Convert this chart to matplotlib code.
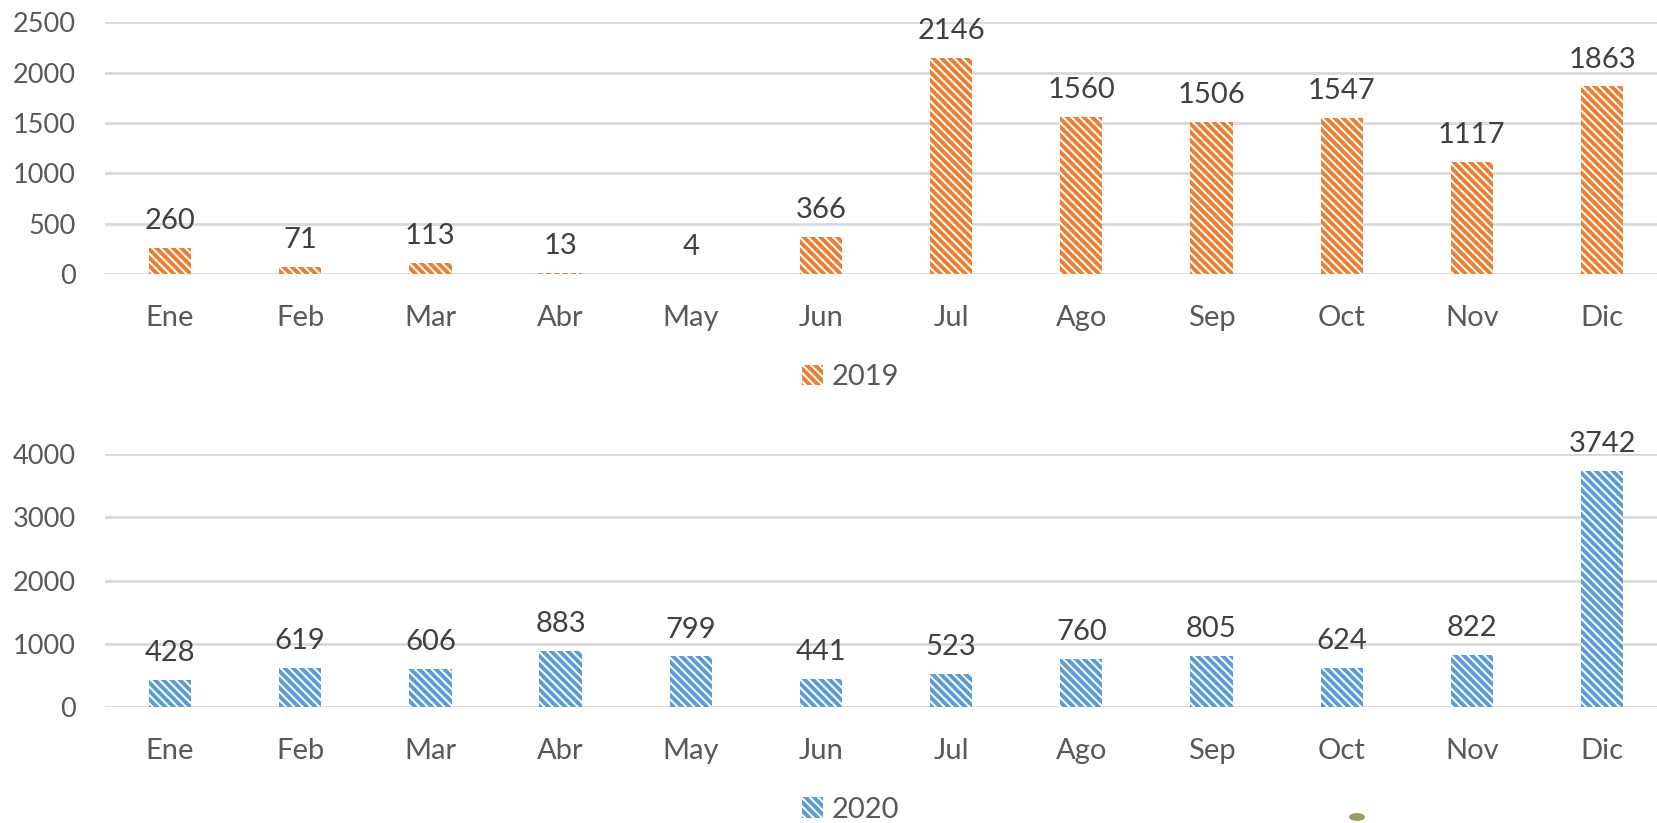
import matplotlib.pyplot as plt
from matplotlib.patches import Patch, Circle

months = ['Ene', 'Feb', 'Mar', 'Abr', 'May', 'Jun', 'Jul', 'Ago', 'Sep', 'Oct', 'Nov', 'Dic']
values_2019 = [260, 71, 113, 13, 4, 366, 2146, 1560, 1506, 1547, 1117, 1863]
values_2020 = [428, 619, 606, 883, 799, 441, 523, 760, 805, 624, 822, 3742]

plt.rcParams['font.family'] = ['Lato', 'DejaVu Sans']
plt.rcParams['hatch.linewidth'] = 2.8

fig = plt.figure(figsize=(16.58, 8.23), dpi=100)

panels = [
    (values_2019, '2019', '#ED7D31', [0.0633, 0.667, 0.9367, 0.306], 2500, 500, 0.542),
    (values_2020, '2020', '#5B9BD5', [0.0633, 0.141, 0.9367, 0.307], 4000, 1000, 0.016),
]

for vals, label, color, rect, ymax, step, leg_y in panels:
    ax = fig.add_axes(rect)
    x = range(len(months))
    ax.bar(x, vals, width=0.325, facecolor='white', edgecolor=color,
           hatch='\\\\\\\\', linewidth=0)
    for xi, v in zip(x, vals):
        ax.annotate(str(v), (xi, v), xytext=(0, 10), textcoords='offset points',
                    ha='center', va='bottom', fontsize=21, color='#404040')
    ax.set_xlim(-0.5, 11.43)
    ax.set_ylim(0, ymax)
    ax.set_yticks(range(0, ymax + 1, step))
    ax.set_xticks(list(x))
    ax.set_xticklabels(months)
    ax.grid(axis='y', color='#D9D9D9', linewidth=2)
    ax.set_axisbelow(True)
    for s in ax.spines.values():
        s.set_visible(False)
    ax.tick_params(length=0, labelcolor='#595959')
    ax.tick_params(axis='y', pad=21, labelsize=19.5)
    ax.tick_params(axis='x', pad=22, labelsize=21)
    handle = Patch(facecolor='white', edgecolor=color, hatch='\\\\\\\\', linewidth=0)
    fig.legend([handle], [label], loc='center', bbox_to_anchor=(0.513, leg_y),
               bbox_transform=fig.transFigure, frameon=False, fontsize=21,
               labelcolor='#595959', handlelength=0.7, handleheight=0.7,
               handletextpad=0.3, borderpad=0)

# small olive dot at the bottom edge of the original image
fig.patches.append(Circle((1357 / 1658, 6 / 823), 0.0048, transform=fig.transFigure,
                          facecolor='#A39A62', edgecolor='none'))

fig.savefig('out.png', dpi=100)
